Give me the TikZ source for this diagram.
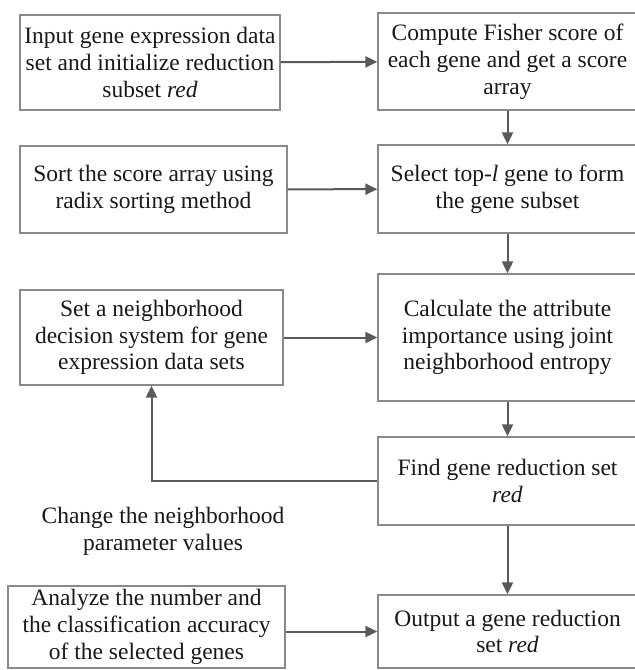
\documentclass[tikz,border=0pt]{standalone}
\usepackage{fontspec}
\setmainfont{Liberation Serif}
\usetikzlibrary{arrows.meta,positioning}

\definecolor{boxgray}{HTML}{8A8A8A}
\definecolor{linegray}{HTML}{595959}

\tikzset{
  stepbox/.style={draw=boxgray, line width=1.3pt, align=center, inner sep=0pt,
    font=\fontsize{23.5}{26.8}\selectfont, text=black!90},
  flow/.style={draw=linegray, line width=2pt, -{Triangle[length=12pt,width=11pt]}},
}

\begin{document}
\begin{tikzpicture}[x=1pt, y=-1pt]
  \useasboundingbox (0,0) rectangle (635,670);

  % left column
  \node[stepbox, minimum width=260pt, minimum height=95pt] (input) at (150,62.5)
    {Input gene expression data\\set and initialize reduction\\subset \textit{red}};
  \node[stepbox, minimum width=267pt, minimum height=87pt] (sortsc) at (153.5,189.5)
    {Sort the score array using\\radix sorting method};
  \node[stepbox, minimum width=263pt, minimum height=95pt] (setnb) at (151.5,337.5)
    {Set a neighborhood\\decision system for gene\\expression data sets};
  \node[stepbox, minimum width=277pt, minimum height=82pt] (analyze) at (146.5,627)
    {Analyze the number and\\the classification accuracy\\of the selected genes};

  % right column
  \node[stepbox, minimum width=259pt, minimum height=97pt] (fisher) at (507.5,61.5)
    {Compute Fisher score of\\each gene and get a score\\array};
  \node[stepbox, minimum width=259pt, minimum height=88pt] (topl) at (507.5,189)
    {Select top-\textit{l} gene to form\\the gene subset};
  \node[stepbox, minimum width=259pt, minimum height=127pt] (calc) at (507.5,337.5)
    {Calculate the attribute\\importance using joint\\neighborhood entropy};
  \node[stepbox, minimum width=259pt, minimum height=88pt] (find) at (507.5,481)
    {Find gene reduction set\\\textit{red}};
  \node[stepbox, minimum width=259pt, minimum height=73pt] (output) at (507.5,631.5)
    {Output a gene reduction\\set \textit{red}};

  \node[align=center, font=\fontsize{23.5}{26.8}\selectfont, text=black!90] (change) at (163,531)
    {Change the neighborhood\\parameter values};

  % connectors
  \draw[flow] (input) -- (fisher);
  \draw[flow] (fisher) -- (topl);
  \draw[flow] (sortsc) -- (topl);
  \draw[flow] (topl) -- (calc);
  \draw[flow] (setnb) -- (calc);
  \draw[flow] (calc) -- (find);
  \draw[flow] (find.west) -| (setnb.south);
  \draw[flow] (find) -- (output);
  \draw[flow] (analyze.east |- output.west) -- (output.west);
\end{tikzpicture}
\end{document}
